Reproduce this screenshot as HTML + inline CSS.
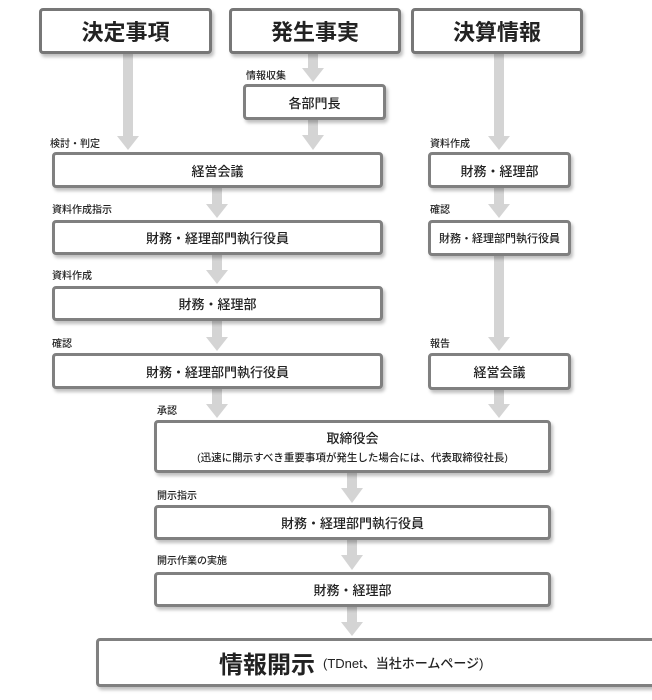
<!DOCTYPE html>
<html><head><meta charset="utf-8"><style>
body{margin:0;width:652px;height:700px;background:#fff;position:relative;overflow:hidden;font-family:"Liberation Sans","Noto Sans CJK JP",sans-serif;color:#222}
.b{position:absolute;box-sizing:border-box;border:3px solid #808080;border-radius:4px;background:#fff;box-shadow:2px 3px 3px rgba(0,0,0,0.25);display:flex;align-items:center;justify-content:center;font-size:13px;flex-direction:column;font-weight:500}
.big{font-size:22px;border-color:#777;font-weight:bold}
.l{position:absolute;font-size:10px;white-space:nowrap;font-weight:500}
svg{position:absolute;left:0;top:0}
</style></head><body>
<svg width="652" height="700">
<g fill="#d4d4d4">
<rect x="123" y="54" width="10" height="82"/><polygon points="117,136 139,136 128,150"/>
<rect x="308" y="54" width="10" height="16"/><polygon points="302,68 324,68 313,82"/>
<rect x="308" y="120" width="10" height="16"/><polygon points="302,135 324,135 313,150"/>
<rect x="212" y="188" width="10" height="16"/><polygon points="206,204 228,204 217,218"/>
<rect x="212" y="255" width="10" height="16"/><polygon points="206,270 228,270 217,284"/>
<rect x="212" y="321" width="10" height="17"/><polygon points="206,337 228,337 217,351"/>
<rect x="212" y="389" width="10" height="15"/><polygon points="206,404 228,404 217,418"/>
<rect x="494" y="54" width="10" height="82"/><polygon points="488,136 510,136 499,150"/>
<rect x="494" y="188" width="10" height="16"/><polygon points="488,204 510,204 499,218"/>
<rect x="494" y="256" width="10" height="82"/><polygon points="488,337 510,337 499,351"/>
<rect x="494" y="390" width="10" height="14"/><polygon points="488,404 510,404 499,418"/>
<rect x="347" y="472" width="10" height="17"/><polygon points="341,488 363,488 352,503"/>
<rect x="347" y="540" width="10" height="16"/><polygon points="341,555 363,555 352,570"/>
<rect x="347" y="607" width="10" height="17"/><polygon points="341,622 363,622 352,636"/>
</g></svg>
<div class="b big" style="left:39px;top:8px;width:173px;height:46px">決定事項</div>
<div class="b big" style="left:229px;top:8px;width:172px;height:46px">発生事実</div>
<div class="b big" style="left:411px;top:8px;width:172px;height:46px">決算情報</div>
<div class="l" style="left:246px;top:67px">情報収集</div>
<div class="b" style="left:243px;top:84px;width:143px;height:36px">各部門長</div>
<div class="l" style="left:50px;top:135px">検討・判定</div>
<div class="b" style="left:52px;top:152px;width:331px;height:36px">経営会議</div>
<div class="l" style="left:52px;top:201px">資料作成指示</div>
<div class="b" style="left:52px;top:220px;width:331px;height:35px">財務・経理部門執行役員</div>
<div class="l" style="left:52px;top:267px">資料作成</div>
<div class="b" style="left:52px;top:286px;width:331px;height:35px">財務・経理部</div>
<div class="l" style="left:52px;top:335px">確認</div>
<div class="b" style="left:52px;top:353px;width:331px;height:36px">財務・経理部門執行役員</div>
<div class="l" style="left:430px;top:135px">資料作成</div>
<div class="b" style="left:428px;top:152px;width:143px;height:36px">財務・経理部</div>
<div class="l" style="left:430px;top:201px">確認</div>
<div class="b" style="left:428px;top:220px;width:143px;height:36px;font-size:11px">財務・経理部門執行役員</div>
<div class="l" style="left:430px;top:335px">報告</div>
<div class="b" style="left:428px;top:353px;width:143px;height:37px">経営会議</div>
<div class="l" style="left:157px;top:402px">承認</div>
<div class="b" style="left:154px;top:420px;width:397px;height:53px"><div>取締役会</div><div style="font-size:10.5px;margin-top:3px">(迅速に開示すべき重要事項が発生した場合には、代表取締役社長)</div></div>
<div class="l" style="left:157px;top:487px">開示指示</div>
<div class="b" style="left:154px;top:505px;width:397px;height:35px">財務・経理部門執行役員</div>
<div class="l" style="left:157px;top:552px">開示作業の実施</div>
<div class="b" style="left:154px;top:572px;width:397px;height:35px">財務・経理部</div>
<div class="b" style="left:96px;top:638px;width:560px;height:49px;flex-direction:row;justify-content:flex-start;padding-left:120px"><span style="font-size:24px;font-weight:bold">情報開示</span><span style="font-size:13px;margin-left:8px">(TDnet、当社ホームページ)</span></div>
</body></html>
